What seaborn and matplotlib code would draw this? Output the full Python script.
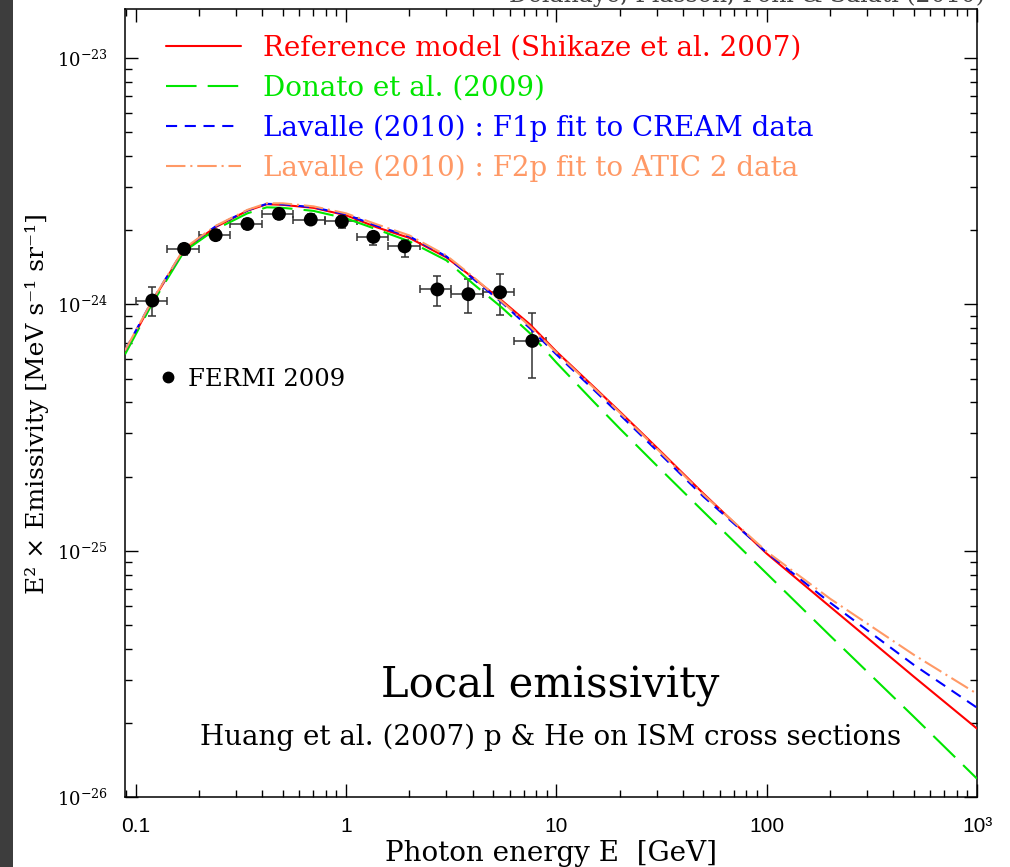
import numpy as np
import pandas as pd
import matplotlib
matplotlib.use("Agg")
import matplotlib.pyplot as plt
import seaborn as sns
from matplotlib.lines import Line2D
from matplotlib.patches import Rectangle
from matplotlib.ticker import FixedLocator, LogLocator, NullFormatter

# ---------------- data ----------------
energy = [0.089, 0.12, 0.17, 0.24, 0.34, 0.42, 0.5, 0.7, 1.0, 1.4, 2.0, 3.0, 4.0,
          5.5, 7.5, 10, 15, 20, 30, 50, 100, 200, 500, 1000]
# emissivities in units of 1e-24 MeV s^-1 sr^-1
shikaze = [0.638, 1.028, 1.672, 2.06, 2.40, 2.55, 2.535, 2.465, 2.30, 2.055, 1.862,
           1.552, 1.287, 1.038, 0.829, 0.644, 0.4646, 0.3678, 0.2627, 0.1709, 0.0975,
           0.0594, 0.0309, 0.0190]
donato = [0.627, 1.009, 1.641, 2.016, 2.342, 2.477, 2.465, 2.396, 2.235, 2.016, 1.803,
          1.509, 1.217, 0.972, 0.763, 0.581, 0.404, 0.3138, 0.222, 0.1444, 0.0809,
          0.0453, 0.02125, 0.0119]
lavalle_f1p = [0.650, 1.038, 1.680, 2.073, 2.407, 2.559, 2.547, 2.477, 2.319, 2.083,
               1.888, 1.566, 1.275, 1.019, 0.799, 0.627, 0.4518, 0.3576, 0.2554, 0.1661,
               0.0984, 0.0617, 0.0345, 0.0231]
lavalle_f2p = [0.650, 1.038, 1.688, 2.083, 2.419, 2.572, 2.572, 2.500, 2.342, 2.113,
               1.906, 1.580, 1.299, 1.028, 0.814, 0.638, 0.4603, 0.3644, 0.2602, 0.1693,
               0.0993, 0.0640, 0.0379, 0.0263]

model_names = ["Reference model (Shikaze et al. 2007)",
               "Donato et al. (2009)",
               "Lavalle (2010) : F1p fit to CREAM data",
               "Lavalle (2010) : F2p fit to ATIC 2 data"]
model_colors = ["#ff0000", "#00e600", "#0000ff", "#ff9966"]

fermi_e = [0.12, 0.17, 0.24, 0.34, 0.48, 0.68, 0.955, 1.35, 1.9, 2.72, 3.82, 5.4, 7.69]
fermi_e_lo = [0.1, 0.1413, 0.1995, 0.2818, 0.398, 0.562, 0.794, 1.122, 1.585, 2.239,
              3.162, 4.467, 6.31]
fermi_e_hi = [0.1413, 0.1995, 0.2818, 0.398, 0.562, 0.794, 1.122, 1.585, 2.239, 3.162,
              4.467, 6.31, 8.91]
fermi_y = [1.037, 1.68, 1.91, 2.12, 2.33, 2.21, 2.17, 1.88, 1.72, 1.15, 1.10, 1.12, 0.711]
fermi_y_lo = [0.899, 1.59, 1.82, 2.02, 2.22, 2.11, 2.05, 1.75, 1.56, 0.988, 0.925, 0.908, 0.505]
fermi_y_hi = [1.18, 1.76, 2.00, 2.22, 2.44, 2.32, 2.29, 1.97, 1.83, 1.31, 1.27, 1.33, 0.925]

unit = 1e-24
x_ticks = [0.1, 1, 10, 100, 1000]
x_ticklabels = ["0.1", "1", "10", "100", "10\u00b3"]
y_ticks = [1e-26, 1e-25, 1e-24, 1e-23]
y_ticklabels = [r"$10^{-26}$", r"$10^{-25}$", r"$10^{-24}$", r"$10^{-23}$"]

# ---------------- style ----------------
sns.set_theme(style="ticks")
plt.rcParams["font.family"] = ["DejaVu Serif"]
plt.rcParams["mathtext.fontset"] = "dejavuserif"
plt.rcParams["lines.scale_dashes"] = False
for k in ["text.color", "axes.labelcolor", "xtick.color", "ytick.color",
          "xtick.labelcolor", "ytick.labelcolor"]:
    plt.rcParams[k] = "black"

W, H = 1010, 867
fig = plt.figure(figsize=(W / 100, H / 100), dpi=100)
fig.patch.set_facecolor("white")
fig.patches.append(Rectangle((0, 0), 13 / W, 1, transform=fig.transFigure,
                             facecolor="#3d3d3d", edgecolor="none", zorder=0))
ax_l, ax_r, ax_t, ax_b = 124.7, 977.0, 9.0, 797.3
ax = fig.add_axes([ax_l / W, 1 - ax_b / H, (ax_r - ax_l) / W, (ax_b - ax_t) / H])
ax.set_facecolor("white")

rows = []
for name, vals in zip(model_names, [shikaze, donato, lavalle_f1p, lavalle_f2p]):
    for e, v in zip(energy, vals):
        rows.append({"E": e, "emis": v * unit, "model": name})
df = pd.DataFrame(rows)

dash_map = {model_names[0]: "",
            model_names[1]: (22, 8),
            model_names[2]: (8, 5.5),
            model_names[3]: (14, 3.5, 1.5, 3.5)}
sns.lineplot(data=df, x="E", y="emis", hue="model", style="model",
             hue_order=model_names, style_order=model_names,
             palette=dict(zip(model_names, model_colors)), dashes=dash_map,
             estimator=None, sort=True, linewidth=1.5, ax=ax, legend=False, zorder=3)

fe = np.array(fermi_e)
fy = np.array(fermi_y) * unit
xerr = [fe - np.array(fermi_e_lo), np.array(fermi_e_hi) - fe]
yerr = [fy - np.array(fermi_y_lo) * unit, np.array(fermi_y_hi) * unit - fy]
ax.errorbar(fe, fy, xerr=xerr, yerr=yerr, fmt="none", ecolor="#333333",
            elinewidth=1.1, capsize=3, capthick=1.1, zorder=2)
sns.scatterplot(x=fe, y=fy, color="black", s=100, edgecolor="none", ax=ax, zorder=4)

ax.set_xscale("log")
ax.set_yscale("log")
ax.set_xlim(0.0887, 1000)
ax.set_ylim(1e-26, 1.58e-23)

ax.xaxis.set_major_locator(FixedLocator(x_ticks))
ax.set_xticklabels(x_ticklabels, fontfamily="Liberation Sans", fontsize=15)
ax.xaxis.set_minor_locator(LogLocator(base=10, subs=np.arange(2, 10)))
ax.xaxis.set_minor_formatter(NullFormatter())
ax.yaxis.set_major_locator(FixedLocator(y_ticks))
ax.set_yticklabels(y_ticklabels, fontsize=13)
ax.yaxis.set_minor_locator(LogLocator(base=10, subs=np.arange(2, 10)))
ax.yaxis.set_minor_formatter(NullFormatter())

ax.tick_params(which="both", direction="in", top=True, right=True, color="black")
ax.tick_params(which="major", length=9.5, width=1.0)
ax.tick_params(which="minor", length=4.7, width=1.0)
ax.tick_params(axis="x", which="major", pad=14)
ax.tick_params(axis="y", which="major", pad=12)
for s in ax.spines.values():
    s.set_visible(True)
    s.set_color("black")
    s.set_linewidth(1.1)

ax.set_xlabel("Photon energy E  [GeV]", fontsize=20, labelpad=3)
ax.set_ylabel("E\u00b2 \u00d7 Emissivity [MeV s\u207b\u00b9 sr\u207b\u00b9]", fontsize=18, labelpad=6)

leg = ax.legend(handles=ax.lines[:4], labels=model_names, loc="upper left",
                bbox_to_anchor=(0.035, 0.981), frameon=False, fontsize=20,
                handlelength=2.7, handletextpad=0.79, labelspacing=0.46,
                labelcolor="linecolor", borderaxespad=0)
ax.add_artist(leg)
fermi_handle = Line2D([], [], marker="o", ls="", color="black", markersize=7.5)
ax.legend(handles=[fermi_handle], labels=["FERMI 2009"], loc="center left",
          bbox_to_anchor=(0.0304, 0.5306), frameon=False, fontsize=17.5,
          handlelength=0.6, handletextpad=0.55, borderaxespad=0)

ax.text(0.499, 0.1425, "Local emissivity", transform=ax.transAxes, ha="center",
        va="center", fontsize=30)
ax.text(0.5, 0.0765, "Huang et al. (2007) p & He on ISM cross sections",
        transform=ax.transAxes, ha="center", va="center", fontsize=20)

fig.text(0.975, 1.0 + 5 / H, "Delahaye, Fiasson, Pohl & Salati (2010)", ha="right",
         va="center", fontsize=17, color="#444444")

fig.savefig("out.png", dpi=100, facecolor="white")
